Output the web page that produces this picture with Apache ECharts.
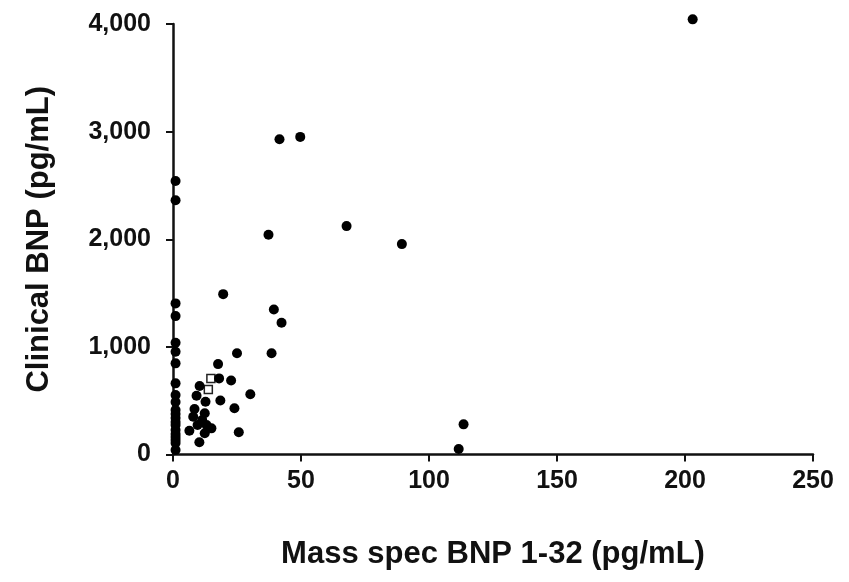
<!DOCTYPE html>
<html>
<head>
<meta charset="utf-8">
<script src="https://cdn.jsdelivr.net/npm/echarts@6/dist/echarts.min.js"></script>
<style>
  html, body { margin: 0; padding: 0; background: #fff; }
  #chart { width: 849px; height: 582px; }
</style>
</head>
<body>
<div id="chart"></div>
<script>
// mass spec BNP 1-32 (x) vs clinical BNP (y), filled markers
const massSpec = [
  1, 1, 1, 1, 1, 1, 1, 1, 1, 1, 1, 1, 1, 1, 1, 1, 1, 1, 1, 1, 1,
  203, 49.7, 41.6, 67.8, 89.4, 37.3, 19.6, 39.4, 42.4, 25, 38.5, 17.6,
  18, 22.7, 30.2, 18.5, 24, 25.7, 10.3, 6.4, 15, 10.4, 9.2, 12.7, 8.4,
  12.4, 7.9, 11.4, 9.6, 13.1, 12.4, 113.5, 111.6
];
const clinical = [
  2542, 2363, 1404, 1286, 1038, 954, 847, 661, 552, 487, 413, 376, 339,
  302, 274, 227, 190, 162, 135, 107, 42,
  4043, 2951, 2929, 2122, 1955, 2041, 1490, 1348, 1224, 940, 940, 840,
  707, 687, 560, 501, 430, 206, 114, 220, 243, 636, 546, 490, 422,
  383, 351, 320, 274, 274, 197, 280, 51
];
// open markers
const openX = [14.8, 13.8];
const openY = [707, 605];

const xTicks = [0, 50, 100, 150, 200, 250];
const yTicks = [0, 1000, 2000, 3000, 4000];

const chart = echarts.init(document.getElementById("chart"));

const font = "'Liberation Sans', Arial, sans-serif";

chart.setOption({
  backgroundColor: "#fff",
  animation: false,
  grid: { left: 173, right: 36, top: 24, bottom: 127.5 },
  xAxis: {
    type: "value",
    min: xTicks[0],
    max: xTicks[xTicks.length - 1],
    interval: 50,
    name: "Mass spec BNP 1-32 (pg/mL)",
    nameLocation: "middle",
    nameGap: 84,
    nameTextStyle: { color: "#111", fontSize: 31, fontWeight: "bold", fontFamily: font },
    axisLine: { lineStyle: { color: "#111", width: 2.5 } },
    axisTick: { show: true, length: 7, lineStyle: { color: "#111", width: 2 } },
    axisLabel: { color: "#111", fontSize: 25, fontWeight: "bold", fontFamily: font, margin: 14 },
    splitLine: { show: false },
  },
  yAxis: {
    type: "value",
    min: yTicks[0],
    max: yTicks[yTicks.length - 1],
    interval: 1000,
    name: "Clinical BNP (pg/mL)",
    nameLocation: "middle",
    nameGap: 118,
    nameTextStyle: { color: "#111", fontSize: 31, fontWeight: "bold", fontFamily: font },
    axisLine: { show: true, lineStyle: { color: "#111", width: 2.5 } },
    axisTick: { show: true, length: 7, lineStyle: { color: "#111", width: 2 } },
    axisLabel: {
      color: "#111",
      fontSize: 25,
      fontWeight: "bold",
      fontFamily: font,
      margin: 22,
      formatter: (v) => v.toLocaleString("en-US"),
    },
    splitLine: { show: false },
  },
  series: [
    {
      type: "scatter",
      symbol: "circle",
      symbolSize: 10,
      clip: false,
      itemStyle: { color: "#000", opacity: 1 },
      data: massSpec.map((x, i) => [x, clinical[i]]),
      z: 3,
    },
    {
      type: "scatter",
      symbol: "rect",
      symbolSize: 8,
      clip: false,
      itemStyle: { color: "#fff", borderColor: "#222", borderWidth: 1.5, opacity: 1 },
      data: openX.map((x, i) => [x, openY[i]]),
      z: 2,
    },
  ],
});

window.addEventListener("resize", () => chart.resize());
</script>
</body>
</html>
